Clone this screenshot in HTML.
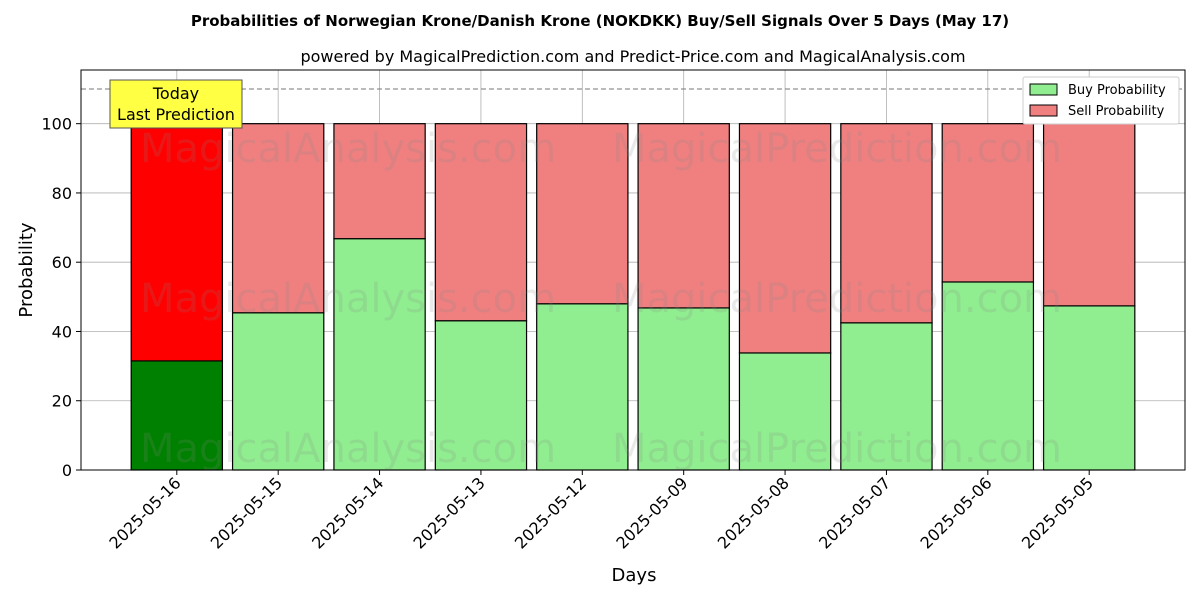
<!DOCTYPE html>
<html><head><meta charset="utf-8"><style>body{margin:0;background:#fff}svg text{font-family:"DejaVu Sans","Liberation Sans",sans-serif}</style></head>
<body>
<svg id="chart" width="1200" height="600" xmlns="http://www.w3.org/2000/svg">
<text x="600" y="26" text-anchor="middle" font-size="15" font-weight="bold">Probabilities of Norwegian Krone/Danish Krone (NOKDKK) Buy/Sell Signals Over 5 Days (May 17)</text>
<text x="633" y="62" text-anchor="middle" font-size="16">powered by MagicalPrediction.com and Predict-Price.com and MagicalAnalysis.com</text>
<g id="grid"></g>
<g id="bars"></g>
<g id="wm" font-size="40" fill="#888" opacity="0.18" text-anchor="middle">
<text x="348" y="162">MagicalAnalysis.com</text>
<text x="837" y="162">MagicalPrediction.com</text>
<text x="348" y="312">MagicalAnalysis.com</text>
<text x="837" y="312">MagicalPrediction.com</text>
<text x="348" y="462">MagicalAnalysis.com</text>
<text x="837" y="462">MagicalPrediction.com</text>
</g>
<line x1="81" x2="1185" y1="89" y2="89" stroke="#777" stroke-dasharray="5,3"/>
<rect x="81" y="70" width="1104" height="400" fill="none" stroke="#000"/>
<g id="axes"></g>
<text x="634" y="581" text-anchor="middle" font-size="18">Days</text>
<text transform="translate(32,270) rotate(-90)" text-anchor="middle" font-size="18">Probability</text>
<g>
<rect x="110" y="80" width="132" height="48" fill="#ffff44" stroke="#555"/>
<text x="176" y="99" text-anchor="middle" font-size="16">Today</text>
<text x="176" y="120" text-anchor="middle" font-size="16">Last Prediction</text>
</g>
<g>
<rect x="1023" y="77" width="156" height="47" fill="#fff" stroke="#ccc" rx="2"/>
<rect x="1030" y="84" width="27" height="11" fill="#90ee90" stroke="#000"/>
<text x="1068" y="94" font-size="13">Buy Probability</text>
<rect x="1030" y="105" width="27" height="11" fill="#f08080" stroke="#000"/>
<text x="1068" y="115" font-size="13">Sell Probability</text>
</g>
</svg>
<script>
const categories=["2025-05-16","2025-05-15","2025-05-14","2025-05-13","2025-05-12","2025-05-09","2025-05-08","2025-05-07","2025-05-06","2025-05-05"];
const buyValues=[31.5,45.4,66.8,43.1,48.0,46.8,33.8,42.5,54.3,47.4];
const yTicks=[0,20,40,60,80,100];
const NS="http://www.w3.org/2000/svg";
const L=81,R=1185,T=70,B=470,xmin=-0.945,xmax=9.945,ymax=115.5;
const xs=v=>L+(v-xmin)/(xmax-xmin)*(R-L);
const ys=v=>B-v/ymax*(B-T);
function mk(tag,attrs,parent){const e=document.createElementNS(NS,tag);for(const k in attrs)e.setAttribute(k,attrs[k]);parent.appendChild(e);return e;}
const grid=document.getElementById('grid'),bars=document.getElementById('bars'),axes=document.getElementById('axes');
yTicks.forEach(t=>{
 const g=mk('line',{x1:L,x2:R,y1:ys(t),y2:ys(t),stroke:'#b0b0b0','stroke-width':0.8},grid);
 
 
 mk('line',{x1:L-5,x2:L,y1:ys(t),y2:ys(t),stroke:'#000'},axes);
 const tx=mk('text',{x:L-9,y:ys(t)+6,'text-anchor':'end','font-size':16},axes);
 tx.textContent=t;
 
 
});
categories.forEach((c,i)=>{
 const cx=xs(i),w=0.9*(R-L)/(xmax-xmin);
 const g=mk('line',{x1:cx,x2:cx,y1:T,y2:B,stroke:'#b0b0b0','stroke-width':0.8},grid);
 
 
 const b=buyValues[i];
 const buy=mk('rect',{x:cx-w/2,y:ys(b),width:w,height:ys(0)-ys(b),fill:i==0?'#008000':'#90ee90',stroke:'#000','stroke-width':1.2},bars);
 
 
 const sell=mk('rect',{x:cx-w/2,y:ys(100),width:w,height:ys(b)-ys(100),fill:i==0?'#ff0000':'#f08080',stroke:'#000','stroke-width':1.2},bars);
 
 
 mk('line',{x1:cx,x2:cx,y1:B,y2:B+5,stroke:'#000'},axes);
 const tx=mk('text',{transform:`translate(${cx+5},${B+14}) rotate(-45)`,'text-anchor':'end','font-size':16},axes);
 tx.textContent=c;
 
 
});
</script>
</body></html>
